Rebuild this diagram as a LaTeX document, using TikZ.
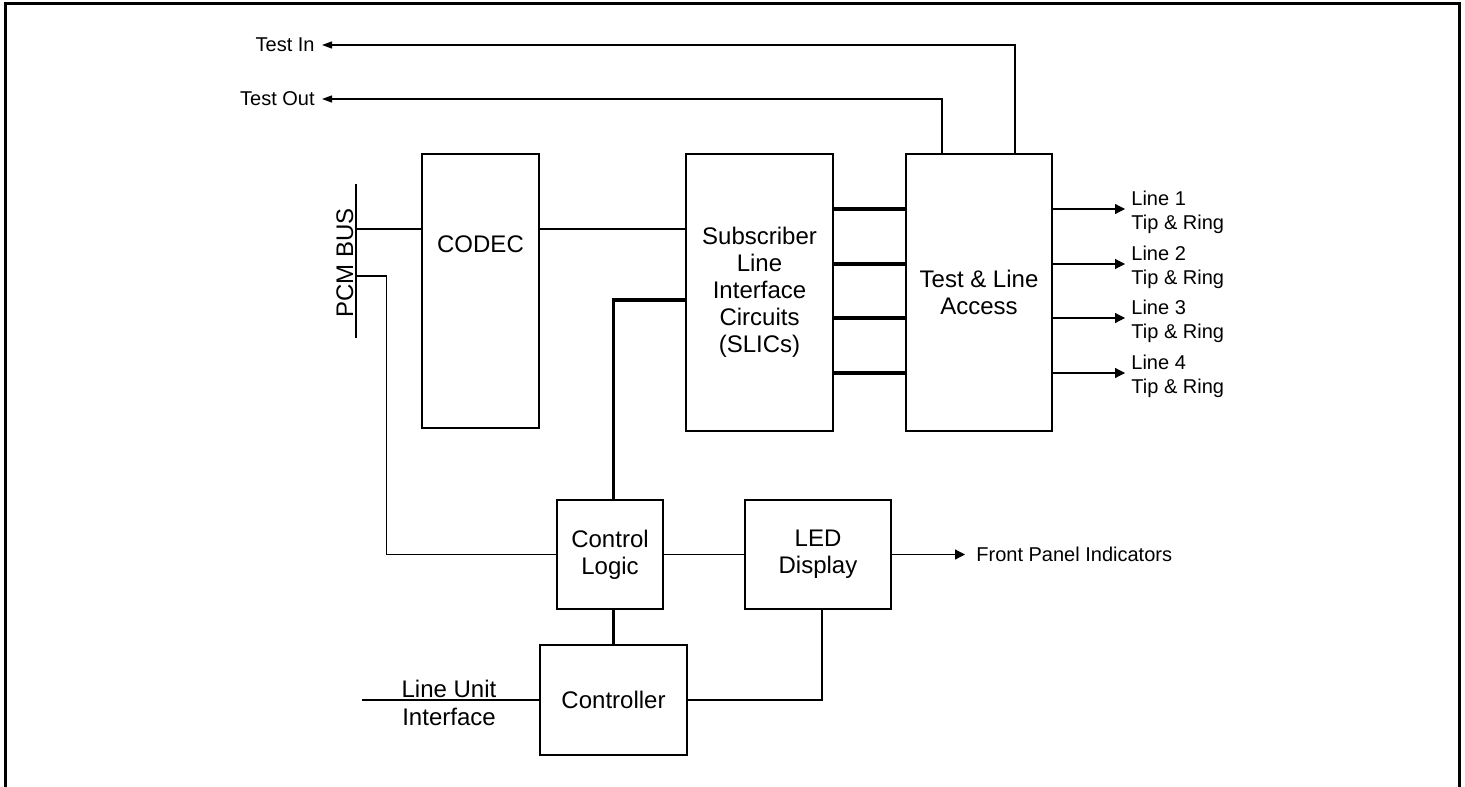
\documentclass[tikz,border=0pt]{standalone}
\usepackage{fontspec}
\setmainfont{Liberation Sans}
\usetikzlibrary{positioning,calc,arrows.meta}

\begin{document}
\begin{tikzpicture}[x=0.5pt, y=-0.5pt, draw=black,
  font=\fontsize{12pt}{13.5pt}\selectfont,
  blk/.style={draw, line width=0.9pt, align=center, inner sep=0pt},
  wire/.style={line width=0.6pt},
  bold wire/.style={line width=1.6pt},
  small/.style={font=\fontsize{10pt}{12pt}\selectfont},
  tip/.style={wire, -{Triangle[length=5pt,width=5pt]}},
  small tip/.style={wire, -{Triangle[length=5pt,width=3.5pt]}}]

  \useasboundingbox (0,0) rectangle (1465,786);
  \draw[line width=1.5pt] (5,792) -- (5,4) -- (1459,4) -- (1459,792);

  \node[blk, minimum width=58.5pt, minimum height=137pt] (codec) at (480.5,291) {};
  \node (codectxt) at ($(codec.north)+(0,91)$) {CODEC};
  \node[blk, minimum width=73.5pt, minimum height=138.5pt] (slic) at (759.5,292.5)
    {Subscriber\\Line\\Interface\\Circuits\\(SLICs)};
  \node[blk, minimum width=73pt, minimum height=138.5pt] (tla) at (979,292.5)
    {Test \& Line\\Access};
  \node[blk, minimum width=53pt, minimum height=54.5pt] (logic) at (610,554.5) {Control\\Logic};
  \node[blk, minimum width=73pt, minimum height=54.5pt] (led) at (818,554.5) {LED\\Display};
  \node[blk, minimum width=73.5pt, minimum height=55pt] (ctrl) at (613.5,700) {Controller};

  \coordinate (bustop) at (356,184);
  \coordinate (busbot) at (356,338);
  \coordinate (bus2) at (356,276);
  \draw[wire] (bustop) -- (busbot);
  \node[rotate=90, anchor=base, inner sep=0pt] (pcm) at (353,263) {PCM BUS};

  \draw[wire] ([yshift=31pt]codec.west) -- ([yshift=31pt]codec.west -| bustop);
  \draw[wire] ([yshift=31pt]codec.east) -- ([yshift=31pt]codec.east -| slic.west);
  \draw[wire] (bus2) -| ([xshift=-85pt]logic.west) -- (logic.west);
  \draw[wire] (logic.east) -- (led.west);
  \draw[bold wire] (ctrl.north) -- (ctrl.north |- logic.south);
  \draw[bold wire] (ctrl.north |- logic.north) |- ([yshift=-3.75pt]slic.west);

  \node[small, anchor=west, inner sep=0pt] (fpi) at (976,554.5) {Front Panel Indicators};
  \draw[tip] (led.east) -- ([xshift=-5.5pt]fpi.west);
  \draw[wire] ([xshift=2pt]led.south) |- (ctrl.east);

  \node[align=center, font=\fontsize{12pt}{14pt}\selectfont] (lui) at (449,703) {Line Unit\\Interface};
  \coordinate (luiend) at (362,700);
  \draw[wire] (ctrl.west) -- (luiend);

  \foreach \i/\y in {1/212,2/267,3/321,4/376} {
    \node[small, anchor=west, align=left, inner sep=0pt] (line\i) at (1131,\y) {Line \i\\Tip \& Ring};
    \coordinate (out\i) at ([yshift=1.5pt]line\i.west);
    \draw[bold wire] (slic.east |- out\i) -- (tla.west |- out\i);
    \draw[tip] (tla.east |- out\i) -- ([xshift=-3pt]out\i);
  }

  \node[small, anchor=east, inner sep=0pt] (tin) at (315,45) {Test In};
  \node[small, anchor=east, inner sep=0pt] (tout) at (315,99) {Test Out};
  \draw[small tip] ([xshift=18pt]tla.north) |- ([xshift=3.5pt]tin.east);
  \draw[small tip] ([xshift=-18.5pt]tla.north) |- ([xshift=3.5pt]tout.east);
\end{tikzpicture}
\end{document}
